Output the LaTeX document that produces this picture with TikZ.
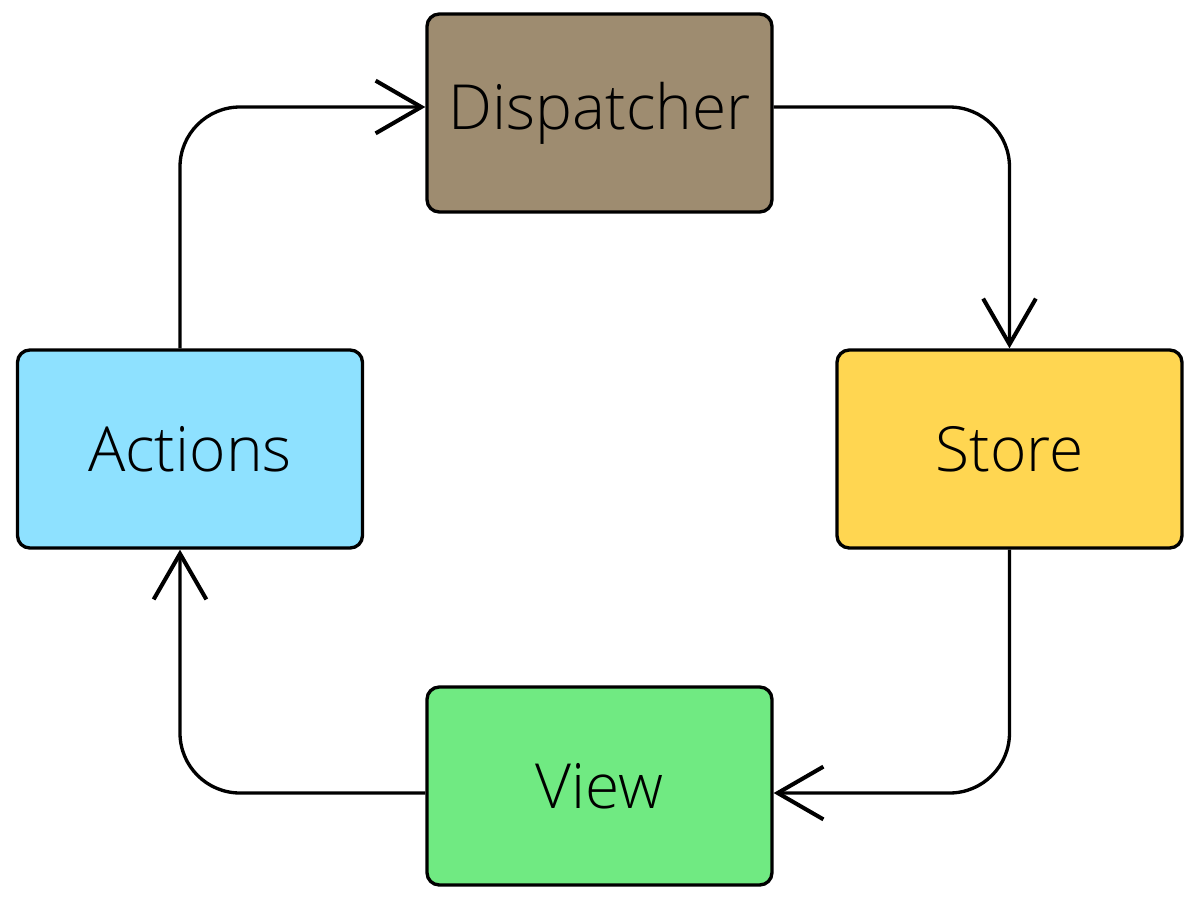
\documentclass[tikz,border=0pt]{standalone}
\usepackage{fontspec}
\setmainfont{Open Sans Light}
\usetikzlibrary{arrows.meta}

\definecolor{dispcol}{HTML}{9E8C70}
\definecolor{actcol}{HTML}{8EE1FF}
\definecolor{storecol}{HTML}{FFD651}
\definecolor{viewcol}{HTML}{70EA82}

\tikzset{
  block/.style={draw=black, line width=0.95pt, rounded corners=3.5pt,
    minimum width=3.45cm, minimum height=1.98cm, inner sep=0pt,
    font=\fontsize{17.7}{21}\selectfont},
  flow/.style={line width=0.95pt, rounded corners=0.6cm,
    -{Straight Barb[length=13pt, width=15pt, line width=1.15pt]}}
}

\begin{document}
\begin{tikzpicture}
            \useasboundingbox (0,0) rectangle (12,-9);
            \node [block, fill=dispcol] (dispatcher) at (5.995,-1.13) {Dispatcher};
            \node [block, fill=actcol] (actions) at (1.9,-4.49) {Actions};
            \node [block, fill=storecol] (store) at (10.095,-4.49) {Store};
            \node [block, fill=viewcol] (view) at (5.995,-7.86) {View};
            \draw [flow] ([xshift=-0.1cm]actions.north) |- ([yshift=0.06cm]dispatcher.west);
            \draw [flow] ([yshift=0.06cm]dispatcher.east) -| (store.north);
            \draw [flow] (store.south) |- ([yshift=-0.07cm]view.east);
            \draw [flow] ([yshift=-0.07cm]view.west) -| ([xshift=-0.1cm]actions.south);
\end{tikzpicture}
\end{document}
